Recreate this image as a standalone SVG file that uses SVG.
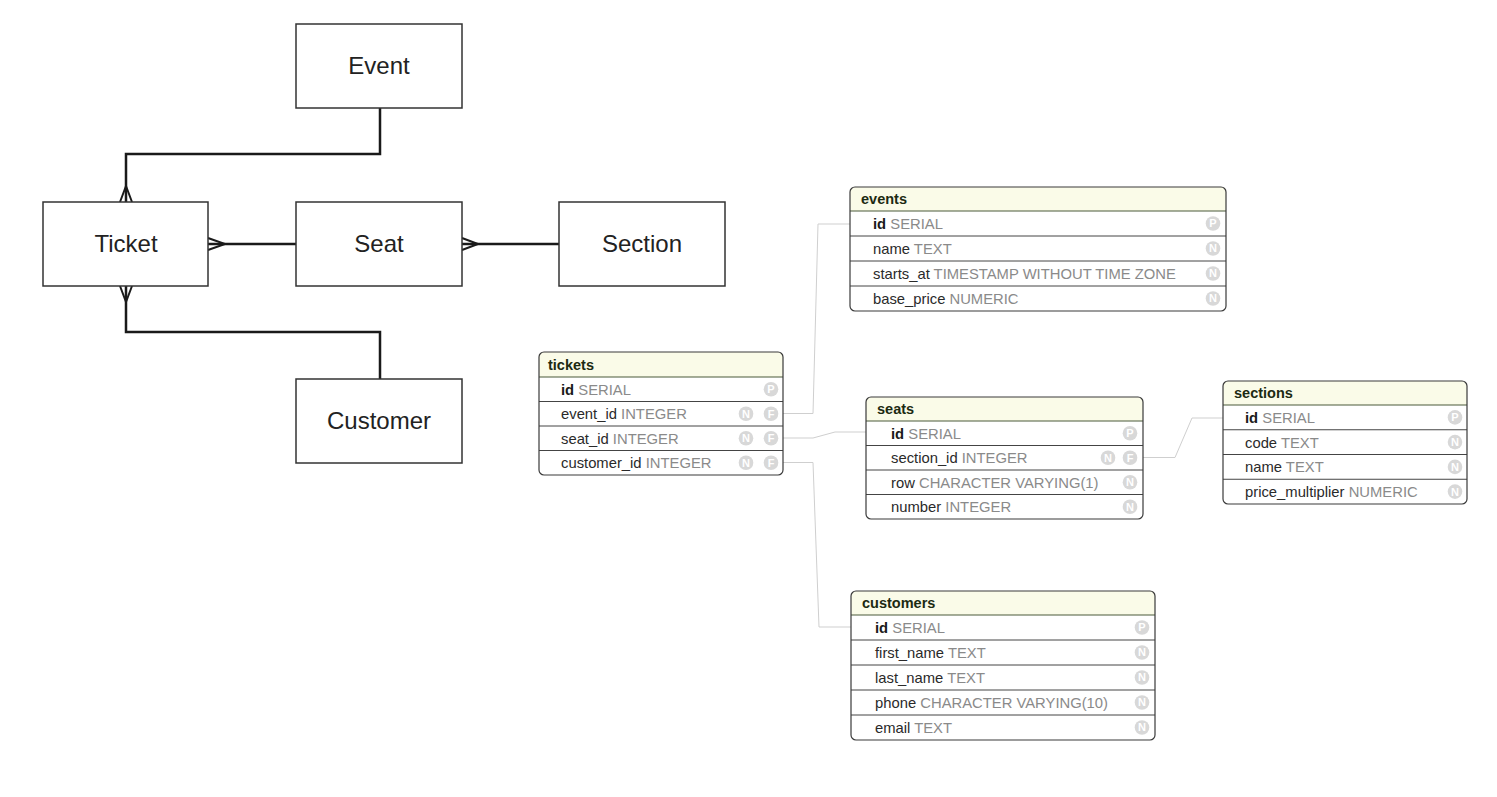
<svg xmlns="http://www.w3.org/2000/svg" width="1497" height="797" viewBox="0 0 1497 797">
<style>
.box{fill:#fff;stroke:#333;stroke-width:1.5}
.big{font-family:"Liberation Sans",Arial,sans-serif;font-size:24px;fill:#222;text-anchor:middle}
.rel{fill:none;stroke:#1a1a1a;stroke-width:2.5}
.crow{fill:none;stroke:#1a1a1a;stroke-width:2}
.fk{fill:none;stroke:#cfcfcf;stroke-width:1}
.tb{fill:none;stroke:#3a3a3a;stroke-width:1.2}
.hd{fill:#fafbe8}
.sep{stroke:#444;stroke-width:1}
.hsep{stroke:#4a5a3a;stroke-width:1.2}
.ht{font-family:"Liberation Sans",Arial,sans-serif;font-size:14.5px;font-weight:bold;fill:#1c2a12}
.rt{font-family:"Liberation Sans",Arial,sans-serif;font-size:14.8px;fill:#2a2a2a}
.ty{fill:#8a8a8a}
.pk{font-weight:bold;fill:#1a1a1a}
.ic{fill:#d8d8d8}
.il{font-family:"Liberation Sans",Arial,sans-serif;font-size:11px;font-weight:bold;fill:#fff;text-anchor:middle}
</style>

<g id="connectors">
  <path class="rel" d="M380,108 V154 H126 V202"/>
  <path class="rel" d="M208,244 H296"/>
  <path class="rel" d="M462,244 H559"/>
  <path class="rel" d="M126,286 V332 H380 V379"/>
  <path class="crow" d="M120,202 L126,186 L132,202"/>
  <path class="crow" d="M208,238 L225,244 L208,250"/>
  <path class="crow" d="M462,238 L478,244 L462,250"/>
  <path class="crow" d="M120,286 L126,302 L132,286"/>
  <path class="fk" d="M783,413.5 H813 L818,224 H850"/>
  <path class="fk" d="M783,438 H813 L835,432 H866"/>
  <path class="fk" d="M783,462.5 H813 L819,627 H851"/>
  <path class="fk" d="M1143,457.5 H1175 L1192,418 H1223"/>
</g>

<g id="node-event"><rect class="box" x="296" y="24" width="166" height="84"/><text class="big" x="379" y="74">Event</text></g>
<g id="node-ticket"><rect class="box" x="43" y="202" width="165" height="84"/><text class="big" x="126" y="252">Ticket</text></g>
<g id="node-seat"><rect class="box" x="296" y="202" width="166" height="84"/><text class="big" x="379" y="252">Seat</text></g>
<g id="node-section"><rect class="box" x="559" y="202" width="166" height="84"/><text class="big" x="642" y="252">Section</text></g>
<g id="node-customer"><rect class="box" x="296" y="379" width="166" height="84"/><text class="big" x="379" y="429">Customer</text></g>

<g id="table-tickets" transform="translate(539,352)">
  <path class="hd" d="M0,25 V5 Q0,0 5,0 H239 Q244,0 244,5 V25 Z"/>
  <line class="hsep" x1="0" y1="25" x2="244" y2="25"/>
  <line class="sep" x1="0" y1="49.5" x2="244" y2="49.5"/>
  <line class="sep" x1="0" y1="74" x2="244" y2="74"/>
  <line class="sep" x1="0" y1="98.5" x2="244" y2="98.5"/>
  <rect class="tb" x="0" y="0" width="244" height="123" rx="5"/>
  <text class="ht" x="9" y="17.5">tickets</text>
  <text class="rt" x="22" y="42.5"><tspan class="pk">id</tspan> <tspan class="ty">SERIAL</tspan></text>
  <text class="rt" x="22" y="67">event_id <tspan class="ty">INTEGER</tspan></text>
  <text class="rt" x="22" y="91.5">seat_id <tspan class="ty">INTEGER</tspan></text>
  <text class="rt" x="22" y="116">customer_id <tspan class="ty">INTEGER</tspan></text>
  <circle class="ic" cx="232" cy="37.25" r="7.3"/><text class="il" x="232" y="41.2">P</text>
  <circle class="ic" cx="207" cy="61.75" r="7.3"/><text class="il" x="207" y="65.7">N</text>
  <circle class="ic" cx="232" cy="61.75" r="7.3"/><text class="il" x="232" y="65.7">F</text>
  <circle class="ic" cx="207" cy="86.25" r="7.3"/><text class="il" x="207" y="90.2">N</text>
  <circle class="ic" cx="232" cy="86.25" r="7.3"/><text class="il" x="232" y="90.2">F</text>
  <circle class="ic" cx="207" cy="110.75" r="7.3"/><text class="il" x="207" y="114.7">N</text>
  <circle class="ic" cx="232" cy="110.75" r="7.3"/><text class="il" x="232" y="114.7">F</text>
</g>

<g id="table-events" transform="translate(850,187)">
  <path class="hd" d="M0,24 V5 Q0,0 5,0 H371 Q376,0 376,5 V24 Z"/>
  <line class="hsep" x1="0" y1="24" x2="376" y2="24"/>
  <line class="sep" x1="0" y1="49" x2="376" y2="49"/>
  <line class="sep" x1="0" y1="74" x2="376" y2="74"/>
  <line class="sep" x1="0" y1="99" x2="376" y2="99"/>
  <rect class="tb" x="0" y="0" width="376" height="124" rx="5"/>
  <text class="ht" x="11" y="17">events</text>
  <text class="rt" x="23" y="42"><tspan class="pk">id</tspan> <tspan class="ty">SERIAL</tspan></text>
  <text class="rt" x="23" y="67">name <tspan class="ty">TEXT</tspan></text>
  <text class="rt" x="23" y="92">starts_at <tspan class="ty">TIMESTAMP WITHOUT TIME ZONE</tspan></text>
  <text class="rt" x="23" y="117">base_price <tspan class="ty">NUMERIC</tspan></text>
  <circle class="ic" cx="363" cy="36.5" r="7.3"/><text class="il" x="363" y="40.4">P</text>
  <circle class="ic" cx="363" cy="61.5" r="7.3"/><text class="il" x="363" y="65.4">N</text>
  <circle class="ic" cx="363" cy="86.5" r="7.3"/><text class="il" x="363" y="90.4">N</text>
  <circle class="ic" cx="363" cy="111.5" r="7.3"/><text class="il" x="363" y="115.4">N</text>
</g>

<g id="table-seats" transform="translate(866,397)">
  <path class="hd" d="M0,24 V5 Q0,0 5,0 H272 Q277,0 277,5 V24 Z"/>
  <line class="hsep" x1="0" y1="24" x2="277" y2="24"/>
  <line class="sep" x1="0" y1="48.5" x2="277" y2="48.5"/>
  <line class="sep" x1="0" y1="73" x2="277" y2="73"/>
  <line class="sep" x1="0" y1="97.5" x2="277" y2="97.5"/>
  <rect class="tb" x="0" y="0" width="277" height="122" rx="5"/>
  <text class="ht" x="11" y="17">seats</text>
  <text class="rt" x="25" y="41.75"><tspan class="pk">id</tspan> <tspan class="ty">SERIAL</tspan></text>
  <text class="rt" x="25" y="66.25">section_id <tspan class="ty">INTEGER</tspan></text>
  <text class="rt" x="25" y="90.75">row <tspan class="ty">CHARACTER VARYING(1)</tspan></text>
  <text class="rt" x="25" y="115.25">number <tspan class="ty">INTEGER</tspan></text>
  <circle class="ic" cx="264" cy="36.25" r="7.3"/><text class="il" x="264" y="40.2">P</text>
  <circle class="ic" cx="242" cy="60.75" r="7.3"/><text class="il" x="242" y="64.7">N</text>
  <circle class="ic" cx="264" cy="60.75" r="7.3"/><text class="il" x="264" y="64.7">F</text>
  <circle class="ic" cx="264" cy="85.25" r="7.3"/><text class="il" x="264" y="89.2">N</text>
  <circle class="ic" cx="264" cy="109.75" r="7.3"/><text class="il" x="264" y="113.7">N</text>
</g>

<g id="table-sections" transform="translate(1223,381)">
  <path class="hd" d="M0,24 V5 Q0,0 5,0 H239 Q244,0 244,5 V24 Z"/>
  <line class="hsep" x1="0" y1="24" x2="244" y2="24"/>
  <line class="sep" x1="0" y1="48.75" x2="244" y2="48.75"/>
  <line class="sep" x1="0" y1="73.5" x2="244" y2="73.5"/>
  <line class="sep" x1="0" y1="98.25" x2="244" y2="98.25"/>
  <rect class="tb" x="0" y="0" width="244" height="123" rx="5"/>
  <text class="ht" x="11" y="17">sections</text>
  <text class="rt" x="22" y="41.9"><tspan class="pk">id</tspan> <tspan class="ty">SERIAL</tspan></text>
  <text class="rt" x="22" y="66.6">code <tspan class="ty">TEXT</tspan></text>
  <text class="rt" x="22" y="91.4">name <tspan class="ty">TEXT</tspan></text>
  <text class="rt" x="22" y="116.1">price_multiplier <tspan class="ty">NUMERIC</tspan></text>
  <circle class="ic" cx="232" cy="36.4" r="7.3"/><text class="il" x="232" y="40.3">P</text>
  <circle class="ic" cx="232" cy="61.1" r="7.3"/><text class="il" x="232" y="65">N</text>
  <circle class="ic" cx="232" cy="85.9" r="7.3"/><text class="il" x="232" y="89.8">N</text>
  <circle class="ic" cx="232" cy="110.6" r="7.3"/><text class="il" x="232" y="114.5">N</text>
</g>

<g id="table-customers" transform="translate(851,591)">
  <path class="hd" d="M0,24 V5 Q0,0 5,0 H299 Q304,0 304,5 V24 Z"/>
  <line class="hsep" x1="0" y1="24" x2="304" y2="24"/>
  <line class="sep" x1="0" y1="49" x2="304" y2="49"/>
  <line class="sep" x1="0" y1="74" x2="304" y2="74"/>
  <line class="sep" x1="0" y1="99" x2="304" y2="99"/>
  <line class="sep" x1="0" y1="124" x2="304" y2="124"/>
  <rect class="tb" x="0" y="0" width="304" height="149" rx="5"/>
  <text class="ht" x="11" y="17">customers</text>
  <text class="rt" x="24" y="42"><tspan class="pk">id</tspan> <tspan class="ty">SERIAL</tspan></text>
  <text class="rt" x="24" y="67">first_name <tspan class="ty">TEXT</tspan></text>
  <text class="rt" x="24" y="92">last_name <tspan class="ty">TEXT</tspan></text>
  <text class="rt" x="24" y="117">phone <tspan class="ty">CHARACTER VARYING(10)</tspan></text>
  <text class="rt" x="24" y="142">email <tspan class="ty">TEXT</tspan></text>
  <circle class="ic" cx="291" cy="36.5" r="7.3"/><text class="il" x="291" y="40.4">P</text>
  <circle class="ic" cx="291" cy="61.5" r="7.3"/><text class="il" x="291" y="65.4">N</text>
  <circle class="ic" cx="291" cy="86.5" r="7.3"/><text class="il" x="291" y="90.4">N</text>
  <circle class="ic" cx="291" cy="111.5" r="7.3"/><text class="il" x="291" y="115.4">N</text>
  <circle class="ic" cx="291" cy="136.5" r="7.3"/><text class="il" x="291" y="140.4">N</text>
</g>
</svg>
